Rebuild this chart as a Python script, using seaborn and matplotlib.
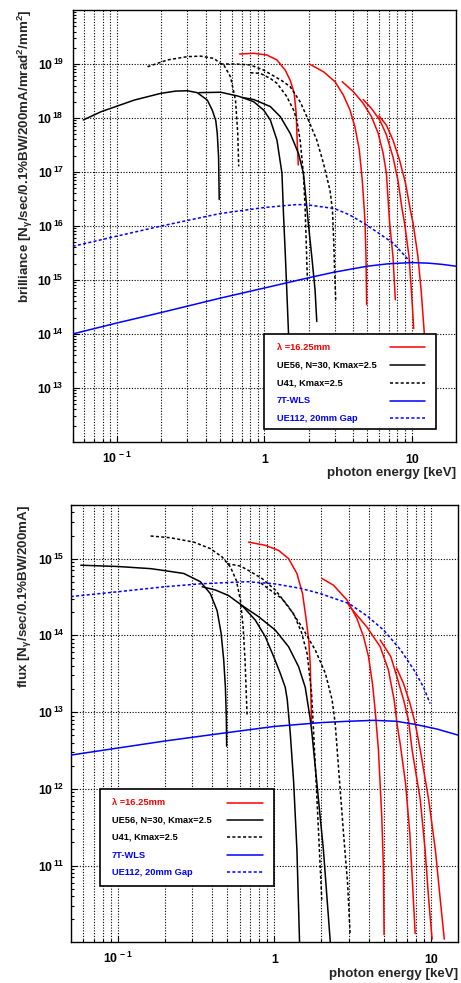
import numpy as np
import pandas as pd
import matplotlib
matplotlib.use("Agg")
import matplotlib.pyplot as plt
from matplotlib.patches import Rectangle
from matplotlib.lines import Line2D
from matplotlib.ticker import FixedLocator, LogLocator, FuncFormatter, NullFormatter
import seaborn as sns

# ---------------------------------------------------------------- sources
SOURCES = ["λ =16.25mm", "UE56, N=30, Kmax=2.5", "U41, Kmax=2.5",
           "7T-WLS", "UE112, 20mm Gap"]
COLORS = ["#ff0000", "#000000", "#000000", "#0000ff", "#0000ff"]
DASHED = [False, False, True, False, True]

# ------------------------------------------- brilliance (keV, ph/s/0.1%BW/200mA/mrad2/mm2)
bri_und_1_e = [0.678, 0.847, 1.04, 1.218, 1.386, 1.498, 1.595, 1.645, 1.67, 1.70]
bri_und_1_v = [1.53e19, 1.58e19, 1.47e19, 1.19e19, 7.7e18, 5.0e18, 2.9e18, 1.22e18, 3.9e17, 1.35e17]
bri_und_2_e = [2.02, 2.52, 3.02, 3.43, 3.81, 4.12, 4.41, 4.62, 4.77, 4.83, 4.90, 4.95]
bri_und_2_v = [1.0e19, 7.2e18, 4.7e18, 2.7e18, 1.42e18, 6.9e17, 2.6e17, 7.1e16, 2.0e16, 1.1e16, 2.7e15, 3.5e14]
bri_und_3_e = [3.38, 4.01, 4.69, 5.34, 5.93, 6.41, 6.74, 6.99, 7.10, 7.47, 7.75]
bri_und_3_v = [4.7e18, 3.1e18, 1.87e18, 1.06e18, 5.2e17, 2.2e17, 9.5e16, 2.0e16, 1.1e16, 2.7e15, 4.3e14]
bri_und_4_e = [4.69, 5.34, 6.07, 6.74, 7.47, 8.07, 8.60, 8.97, 9.60, 9.96, 10.33]
bri_und_4_v = [2.2e18, 1.5e18, 9.2e17, 4.9e17, 1.9e17, 7.1e16, 2.1e16, 1.1e16, 2.7e15, 6.5e14, 1.26e14]
bri_und_5_e = [6.0, 6.74, 7.47, 8.28, 9.10, 9.80, 10.25, 11.04, 11.6, 12.2, 12.35]
bri_und_5_v = [1.1e18, 7.4e17, 3.9e17, 1.66e17, 6.1e16, 2.0e16, 1.1e16, 2.7e15, 6.5e14, 1.0e14, 7.0e13]

bri_ue56_1_e = [0.059, 0.078, 0.131, 0.198, 0.25, 0.30, 0.35, 0.41, 0.443, 0.468, 0.479, 0.489, 0.494]
bri_ue56_1_v = [9.2e17, 1.31e18, 2.15e18, 2.86e18, 3.15e18, 3.2e18, 2.95e18, 2.15e18, 1.4e18, 9.0e17, 5.2e17, 1.9e17, 3.1e16]
bri_ue56_2_e = [0.36, 0.505, 0.654, 0.707, 0.847, 0.99, 1.098, 1.218, 1.317, 1.35, 1.39, 1.42, 1.46, 1.48]
bri_ue56_2_v = [2.95e18, 3.0e18, 2.57e18, 2.4e18, 2.0e18, 1.4e18, 9.2e17, 3.9e17, 9.5e16, 1.6e16, 2.7e15, 6.5e14, 1.0e14, 5.0e13]
bri_ue56_3_e = [0.707, 0.847, 1.098, 1.283, 1.498, 1.706, 1.842, 1.94, 1.99, 2.10, 2.21, 2.27]
bri_ue56_3_v = [2.4e18, 2.2e18, 1.63e18, 1.06e18, 5.2e17, 2.2e17, 9.5e16, 2.3e16, 1.1e16, 2.7e15, 6.5e14, 1.7e14]

bri_u41_1_e = [0.161, 0.22, 0.30, 0.37, 0.454, 0.505, 0.531, 0.589, 0.637, 0.66, 0.67]
bri_u41_1_v = [8.9e18, 1.19e19, 1.37e19, 1.4e19, 1.27e19, 1.02e19, 9.6e18, 5.8e18, 2.15e18, 5.2e17, 1.27e17]
bri_u41_2_e = [0.505, 0.637, 0.804, 0.99, 1.317, 1.498, 1.75, 1.99, 2.27, 2.52, 2.79, 2.90, 2.96, 3.00, 3.05]
bri_u41_2_v = [1.0e19, 1.0e19, 9.6e18, 7.7e18, 4.9e18, 3.8e18, 2.0e18, 9.2e17, 3.9e17, 1.45e17, 4.6e16, 2.0e16, 5.0e15, 1.5e15, 4.3e14]
bri_u41_3_e = [0.804, 0.94, 1.098, 1.218, 1.42, 1.58, 1.66, 1.75, 1.84, 1.89, 1.93, 1.96]
bri_u41_3_v = [6.9e18, 6.7e18, 5.4e18, 4.4e18, 2.5e18, 1.4e18, 9.2e17, 3.9e17, 9.5e16, 2.3e16, 4.0e15, 1.0e15]

bri_wls_e = [0.05, 0.1, 0.2, 0.5, 1, 2, 3, 5, 7, 10, 13, 16, 20]
bri_wls_v = [1.0e14, 1.6e14, 2.5e14, 4.6e14, 7.1e14, 1.1e15, 1.4e15, 1.8e15, 2.0e15, 2.1e15, 2.05e15, 1.95e15, 1.8e15]
bri_ue112_e = [0.05, 0.1, 0.2, 0.5, 1, 1.67, 2, 3, 3.8, 4.8, 6, 7.5, 8.7, 9.7]
bri_ue112_v = [4.2e15, 6.5e15, 1.0e16, 1.7e16, 2.2e16, 2.5e16, 2.45e16, 2.1e16, 1.6e16, 1.1e16, 7.3e15, 4.8e15, 3.1e15, 2.2e15]

# ------------------------------------------------------ flux (keV, ph/s/0.1%BW/200mA)
flx_und_1_e = [0.685, 0.876, 1.065, 1.234, 1.395, 1.515, 1.59, 1.66, 1.70, 1.71, 1.73]
flx_und_1_v = [1.64e15, 1.49e15, 1.28e15, 1.0e15, 6.4e14, 3.5e14, 1.75e14, 8.7e13, 3.9e13, 1.96e13, 7.0e12]
flx_und_2_e = [2.02, 2.39, 2.91, 3.37, 3.72, 4.0, 4.24, 4.41, 4.63, 4.86, 4.98, 5.03]
flx_und_2_v = [5.5e14, 4.5e14, 2.9e14, 1.66e14, 9.6e13, 5.3e13, 2.35e13, 1.07e13, 3.2e12, 4.4e11, 9.8e10, 1.26e10]
flx_und_3_e = [2.95, 3.05, 3.90, 4.75, 5.36, 5.83, 6.12, 6.36, 6.90, 7.35, 7.64, 7.95]
flx_und_3_v = [2.6e14, 2.34e14, 1.29e14, 7.1e13, 3.55e13, 1.45e13, 6.5e12, 4.0e12, 1.18e12, 2.6e11, 5.9e10, 1.3e10]
flx_und_4_e = [4.75, 5.55, 6.07, 6.70, 7.20, 7.60, 8.57, 9.20, 9.70, 10.2]
flx_und_4_v = [8.7e13, 5.3e13, 2.9e13, 1.45e13, 7.9e12, 3.2e12, 7.2e11, 1.6e11, 3.6e10, 1.1e10]
flx_und_5_e = [6.07, 6.70, 7.37, 7.95, 8.57, 9.70, 10.7, 11.5, 12.2]
flx_und_5_v = [3.7e13, 2.35e13, 1.29e13, 7.1e12, 3.2e12, 7.2e11, 1.6e11, 3.6e10, 1.1e10]

flx_ue56_1_e = [0.058, 0.099, 0.162, 0.197, 0.264, 0.337, 0.39, 0.431, 0.457, 0.475, 0.487, 0.494, 0.496]
flx_ue56_1_v = [8.2e14, 7.9e14, 7.4e14, 7.0e14, 6.4e14, 5.0e14, 3.5e14, 2.1e14, 1.07e14, 4.8e13, 2.1e13, 7.9e12, 3.6e12]
flx_ue56_2_e = [0.346, 0.42, 0.51, 0.622, 0.756, 0.876, 0.99, 1.092, 1.175, 1.21, 1.265, 1.33, 1.395, 1.45]
flx_ue56_2_v = [4.3e14, 3.9e14, 3.3e14, 2.45e14, 1.58e14, 9.6e13, 5.3e13, 3.2e13, 2.1e13, 1.45e13, 5.3e12, 1.2e12, 1.6e11, 1.0e10]
flx_ue56_3_e = [0.622, 0.794, 1.015, 1.234, 1.43, 1.577, 1.70, 1.74, 1.87, 2.06, 2.28]
flx_ue56_3_v = [2.45e14, 1.75e14, 1.17e14, 7.1e13, 3.9e13, 2.1e13, 7.9e12, 5.3e12, 1.2e12, 1.6e11, 1.0e10]

flx_u41_1_e = [0.162, 0.217, 0.306, 0.39, 0.464, 0.524, 0.572, 0.607, 0.632, 0.65, 0.67]
flx_u41_1_v = [1.97e15, 1.87e15, 1.64e15, 1.35e15, 1.05e15, 7.8e14, 5.2e14, 2.9e14, 1.29e14, 4.8e13, 9.0e12]
flx_u41_2_e = [0.50, 0.607, 0.685, 0.835, 1.015, 1.234, 1.50, 1.83, 2.12, 2.34, 2.45, 2.57, 2.77, 2.94, 3.05]
flx_u41_2_v = [8.6e14, 8.0e14, 7.0e14, 5.5e14, 3.9e14, 2.35e14, 1.29e14, 6.4e13, 3.2e13, 1.45e13, 7.1e12, 1.95e12, 2.6e11, 5.9e10, 1.3e10]
flx_u41_3_e = [0.82, 1.12, 1.33, 1.49, 1.62, 1.73, 1.83, 1.92, 2.01]
flx_u41_3_v = [4.8e14, 3.0e14, 1.9e14, 1.1e14, 5.8e13, 1.8e13, 1.95e12, 2.6e11, 3.6e10]

flx_wls_e = [0.05, 0.1, 0.2, 0.5, 1, 2, 3, 4.3, 6, 8, 11, 15]
flx_wls_v = [2.75e12, 3.4e12, 4.2e12, 5.4e12, 6.5e12, 7.3e12, 7.6e12, 7.8e12, 7.6e12, 6.9e12, 6.0e12, 5.0e12]
flx_ue112_e = [0.05, 0.1, 0.2, 0.34, 0.67, 1, 1.47, 1.97, 3, 3.9, 5, 6.4, 7.8, 9, 9.9]
flx_ue112_v = [3.2e14, 3.7e14, 4.3e14, 4.7e14, 5.0e14, 4.7e14, 4.1e14, 3.5e14, 2.6e14, 1.8e14, 1.17e14, 6.5e13, 3.55e13, 2.1e13, 1.29e13]

BRILLIANCE = [
    (SOURCES[0], "h1", bri_und_1_e, bri_und_1_v),
    (SOURCES[0], "h3", bri_und_2_e, bri_und_2_v),
    (SOURCES[0], "h5", bri_und_3_e, bri_und_3_v),
    (SOURCES[0], "h7", bri_und_4_e, bri_und_4_v),
    (SOURCES[0], "h9", bri_und_5_e, bri_und_5_v),
    (SOURCES[1], "ue56a", bri_ue56_1_e, bri_ue56_1_v),
    (SOURCES[1], "ue56b", bri_ue56_2_e, bri_ue56_2_v),
    (SOURCES[1], "ue56c", bri_ue56_3_e, bri_ue56_3_v),
    (SOURCES[2], "u41a", bri_u41_1_e, bri_u41_1_v),
    (SOURCES[2], "u41b", bri_u41_2_e, bri_u41_2_v),
    (SOURCES[2], "u41c", bri_u41_3_e, bri_u41_3_v),
    (SOURCES[3], "wls", bri_wls_e, bri_wls_v),
    (SOURCES[4], "ue112", bri_ue112_e, bri_ue112_v),
]
FLUX = [
    (SOURCES[0], "h1", flx_und_1_e, flx_und_1_v),
    (SOURCES[0], "h3", flx_und_2_e, flx_und_2_v),
    (SOURCES[0], "h5", flx_und_3_e, flx_und_3_v),
    (SOURCES[0], "h7", flx_und_4_e, flx_und_4_v),
    (SOURCES[0], "h9", flx_und_5_e, flx_und_5_v),
    (SOURCES[1], "ue56a", flx_ue56_1_e, flx_ue56_1_v),
    (SOURCES[1], "ue56b", flx_ue56_2_e, flx_ue56_2_v),
    (SOURCES[1], "ue56c", flx_ue56_3_e, flx_ue56_3_v),
    (SOURCES[2], "u41a", flx_u41_1_e, flx_u41_1_v),
    (SOURCES[2], "u41b", flx_u41_2_e, flx_u41_2_v),
    (SOURCES[2], "u41c", flx_u41_3_e, flx_u41_3_v),
    (SOURCES[3], "wls", flx_wls_e, flx_wls_v),
    (SOURCES[4], "ue112", flx_ue112_e, flx_ue112_v),
]


def to_frame(curves):
    rows = []
    for src, name, e, v in curves:
        for x, y in zip(e, v):
            rows.append({"source": src, "curve": name, "energy": x, "value": y})
    return pd.DataFrame(rows)


# ------------------------------------------------------------------ style
sns.set_style("ticks")
plt.rcParams["font.family"] = ["Liberation Sans", "DejaVu Sans"]
plt.rcParams["font.weight"] = "bold"
plt.rcParams["mathtext.fontset"] = "custom"
plt.rcParams["mathtext.rm"] = "Liberation Sans:bold"
plt.rcParams["mathtext.bf"] = "Liberation Sans:bold"
plt.rcParams["mathtext.it"] = "Liberation Sans:bold"
plt.rcParams["mathtext.default"] = "bf"

DASH = (2.0, 1.5)
PALETTE = dict(zip(SOURCES, COLORS))
DASHES = {s: (DASH if d else "") for s, d in zip(SOURCES, DASHED)}
GRID = dict(color="black", lw=0.8, ls=(0, (1, 1.5)))


def xfmt(v, _pos):
    if abs(v - 0.1) < 1e-9:
        return r"$10^{\,-1}$"
    if abs(v - 1) < 1e-9:
        return "1"
    if abs(v - 10) < 1e-9:
        return "10"
    return ""


def yfmt(v, _pos):
    return r"$10^{\,%d}$" % int(round(np.log10(v)))


def style_axes(ax, xlim, ylim, ydecades, ypad):
    ax.set_xscale("log")
    ax.set_yscale("log")
    ax.set_xlim(*xlim)
    ax.set_ylim(*ylim)
    ax.xaxis.set_major_locator(FixedLocator([0.1, 1, 10]))
    ax.xaxis.set_minor_locator(LogLocator(base=10, subs=np.arange(2, 10), numticks=30))
    ax.xaxis.set_major_formatter(FuncFormatter(xfmt))
    ax.xaxis.set_minor_formatter(NullFormatter())
    ax.yaxis.set_major_locator(FixedLocator(ydecades))
    ax.yaxis.set_minor_locator(LogLocator(base=10, subs=np.arange(2, 10), numticks=30))
    ax.yaxis.set_major_formatter(FuncFormatter(yfmt))
    ax.yaxis.set_minor_formatter(NullFormatter())
    ax.set_axisbelow(True)
    ax.grid(True, which="both", axis="x", **GRID)
    ax.grid(True, which="major", axis="y", **GRID)
    ax.tick_params(axis="both", which="both", direction="in", top=False, right=False,
                   colors="black", width=0.8)
    ax.tick_params(axis="both", which="major", length=4.3, labelsize=8.8)
    ax.tick_params(axis="both", which="minor", length=2.2)
    ax.tick_params(axis="x", which="major", pad=15)
    ax.tick_params(axis="y", which="major", pad=ypad)
    for lbl in ax.get_xticklabels():
        lbl.set_verticalalignment("baseline")
    for sp in ax.spines.values():
        sp.set_visible(True)
        sp.set_linewidth(1.0)
        sp.set_color("black")


def draw_key(ax, box, text_x, line_x, rows_y, fs):
    ax.add_patch(Rectangle((box[0], box[1]), box[2] - box[0], box[3] - box[1],
                           transform=ax.transAxes, facecolor="white",
                           edgecolor="black", lw=1.2, zorder=5))
    for src, col, dashed, y in zip(SOURCES, COLORS, DASHED, rows_y):
        ax.text(text_x, y, src, transform=ax.transAxes, color=col, fontsize=fs,
                fontweight="bold", ha="left", va="center", zorder=6)
        ax.add_line(Line2D(line_x, [y, y], transform=ax.transAxes, color=col, lw=1.1,
                           ls=(0, DASH) if dashed else "-", zorder=6))


def draw_panel(ax, curves):
    sns.lineplot(data=to_frame(curves), x="energy", y="value", hue="source",
                 style="source", units="curve", estimator=None, sort=False,
                 hue_order=SOURCES, style_order=SOURCES, palette=PALETTE,
                 dashes=DASHES, legend=False, lw=1.1, ax=ax, zorder=3)


fig = plt.figure(figsize=(4.61, 9.83), dpi=100)

# ------------------------------------------------------------ brilliance
ax1 = fig.add_axes([0.1577, 0.5504, 0.8314, 0.4394])
draw_panel(ax1, BRILLIANCE)
style_axes(ax1, (0.05, 20), (1e12, 1e20), [10.0 ** k for k in range(13, 20)], 6.5)
ax1.set_xlabel("photon energy [keV]", fontsize=9.6, fontweight="bold", ha="right")
ax1.xaxis.set_label_coords(1.0, -0.0725)
ax1.xaxis.label.set_va("center")
ax1.set_ylabel(r"brilliance [N$_{\gamma}$/sec/0.1%BW/200mA/mrad$^{2}$/mm$^{2}$]",
               fontsize=9.6, fontweight="bold", loc="top")
ax1.yaxis.set_label_coords(-0.1245, 1.0)
ax1.yaxis.label.set_va("center")
draw_key(ax1, (0.500, 0.0294, 0.948, 0.2493), 0.532, [0.828, 0.919],
         [0.219, 0.178, 0.137, 0.0956, 0.0548], 6.7)

# ------------------------------------------------------------------ flux
ax2 = fig.add_axes([0.1534, 0.0414, 0.8408, 0.4449])
draw_panel(ax2, FLUX)
style_axes(ax2, (0.05, 15), (1e10, 5e15), [10.0 ** k for k in range(11, 16)], 4.5)
ax2.set_xlabel("photon energy [keV]", fontsize=9.6, fontweight="bold", ha="right")
ax2.xaxis.set_label_coords(1.0, -0.0725)
ax2.xaxis.label.set_va("center")
ax2.set_ylabel(r"flux [N$_{\gamma}$/sec/0.1%BW/200mA]", fontsize=9.6,
               fontweight="bold", loc="top")
ax2.yaxis.set_label_coords(-0.118, 1.0)
ax2.yaxis.label.set_va("center")
draw_key(ax2, (0.0756, 0.1294, 0.5245, 0.3499), 0.1058, [0.4025, 0.4954],
         [0.319, 0.2797, 0.2401, 0.1996, 0.1601], 6.7)

fig.savefig("out.png", dpi=100, facecolor="white")
